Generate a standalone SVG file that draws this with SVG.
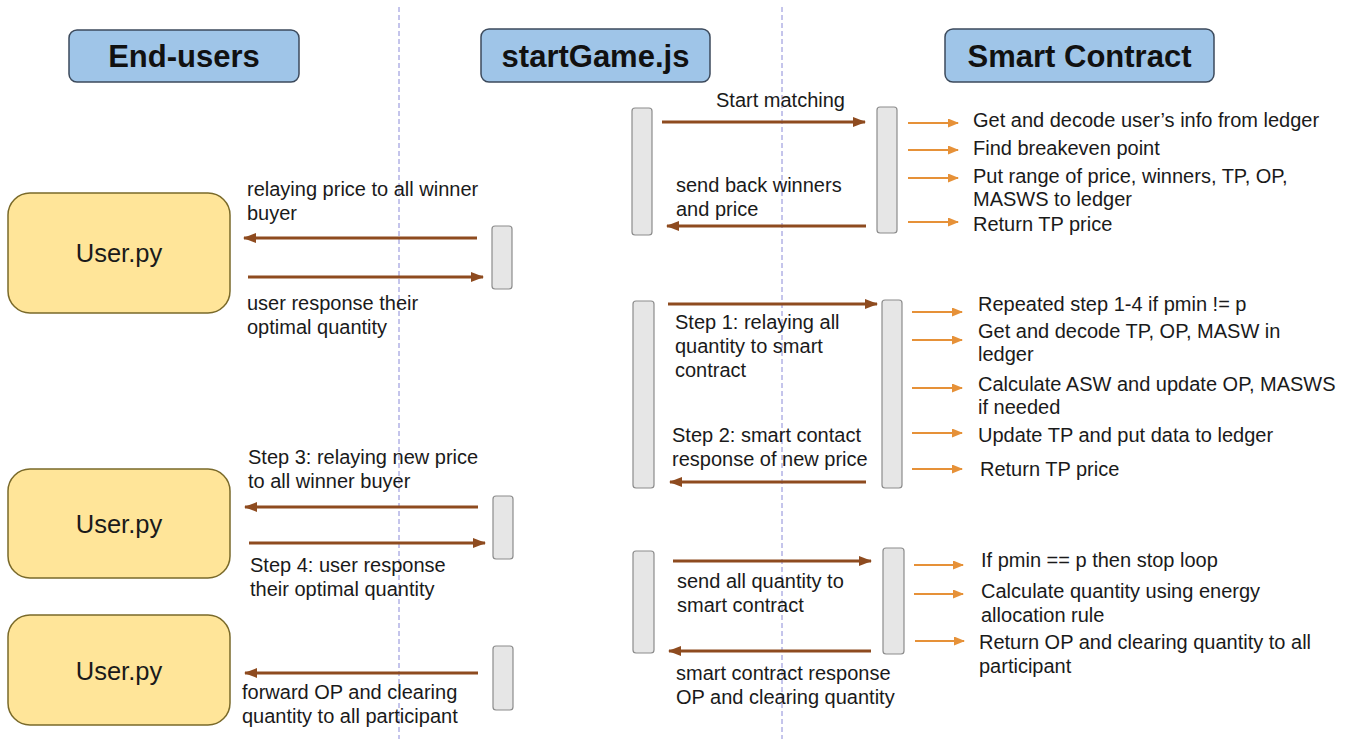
<svg xmlns="http://www.w3.org/2000/svg" width="1357" height="739" viewBox="0 0 1357 739">
<style>
.hdr{fill:#9fc5e8;stroke:#3c4a5c;stroke-width:1.5}
.ht{font-family:"Liberation Sans",Arial,sans-serif;font-weight:bold;font-size:31px;fill:#111;text-anchor:middle}
.usr{fill:#ffe599;stroke:#7a6a2a;stroke-width:1.5}
.ut{font-family:"Liberation Sans",Arial,sans-serif;font-size:25.5px;fill:#1a1a1a;text-anchor:middle}
.bar{fill:#e6e6e6;stroke:#8c8c8c;stroke-width:1.2}
.t{font-family:"Liberation Sans",Arial,sans-serif;font-size:20px;fill:#1a1a1a}
.life{stroke:#8a8ad8;stroke-width:1;stroke-dasharray:5 3;fill:none}
.br{stroke:#8e4b1f;stroke-width:3;fill:none;marker-end:url(#ah)}
.or{stroke:#e69138;stroke-width:2;fill:none;marker-end:url(#oh)}
</style>
<defs>
<marker id="ah" markerUnits="userSpaceOnUse" markerWidth="13" markerHeight="10" refX="12" refY="5" orient="auto">
<path d="M0,0 L13,5 L0,10 z" fill="#8e4b1f"/>
</marker>
<marker id="oh" markerUnits="userSpaceOnUse" markerWidth="11" markerHeight="9" refX="10" refY="4.5" orient="auto">
<path d="M0,0 L11,4.5 L0,9 z" fill="#e69138"/>
</marker>
</defs>
<rect width="1357" height="739" fill="#ffffff"/>
<g id="lifelines">
<line class="life" x1="399" y1="7" x2="399" y2="739"/>
<line class="life" x1="782" y1="7" x2="782" y2="739"/>
</g>
<g id="hdr-endusers"><rect class="hdr" x="69" y="30" width="230" height="52" rx="8"/><text class="ht" x="184" y="67">End-users</text></g>
<g id="hdr-startgame"><rect class="hdr" x="481" y="29" width="229" height="53" rx="8"/><text class="ht" x="595.5" y="67">startGame.js</text></g>
<g id="hdr-smartcontract"><rect class="hdr" x="945" y="29" width="269" height="53" rx="8"/><text class="ht" x="1079.5" y="67">Smart Contract</text></g>
<g id="user1"><rect class="usr" x="8" y="193" width="222" height="120" rx="22"/><text class="ut" x="119" y="262">User.py</text></g>
<g id="user2"><rect class="usr" x="8" y="469" width="222" height="109" rx="22"/><text class="ut" x="119" y="533">User.py</text></g>
<g id="user3"><rect class="usr" x="8" y="615" width="222" height="110" rx="22"/><text class="ut" x="119" y="680">User.py</text></g>
<g id="bars">
<rect class="bar" x="632" y="108" width="20" height="127" rx="3"/>
<rect class="bar" x="877" y="107" width="20" height="126" rx="3"/>
<rect class="bar" x="492" y="226" width="20" height="63" rx="3"/>
<rect class="bar" x="633" y="301" width="21" height="187" rx="3"/>
<rect class="bar" x="882" y="300" width="20" height="188" rx="3"/>
<rect class="bar" x="493" y="496" width="20" height="63" rx="3"/>
<rect class="bar" x="493" y="646" width="20" height="64" rx="3"/>
<rect class="bar" x="633" y="551" width="21" height="102" rx="3"/>
<rect class="bar" x="883" y="548" width="21" height="106" rx="3"/>
</g>
<g id="connectors">
<line class="br" x1="662" y1="122" x2="865" y2="122"/>
<line class="br" x1="866" y1="226" x2="667" y2="226"/>
<line class="br" x1="477" y1="238" x2="244" y2="238"/>
<line class="br" x1="248" y1="277" x2="483" y2="277"/>
<line class="br" x1="668" y1="304" x2="877" y2="304"/>
<line class="br" x1="866" y1="482" x2="670" y2="482"/>
<line class="br" x1="478" y1="507" x2="245" y2="507"/>
<line class="br" x1="249" y1="543" x2="485" y2="543"/>
<line class="br" x1="478" y1="673" x2="245" y2="673"/>
<line class="br" x1="673" y1="561" x2="871" y2="561"/>
<line class="br" x1="871" y1="651" x2="669" y2="651"/>
<line class="or" x1="908" y1="123" x2="958" y2="123"/>
<line class="or" x1="908" y1="150" x2="958" y2="150"/>
<line class="or" x1="908" y1="178" x2="958" y2="178"/>
<line class="or" x1="908" y1="222" x2="958" y2="222"/>
<line class="or" x1="912" y1="312" x2="962" y2="312"/>
<line class="or" x1="912" y1="340" x2="962" y2="340"/>
<line class="or" x1="912" y1="388" x2="962" y2="388"/>
<line class="or" x1="912" y1="433" x2="962" y2="433"/>
<line class="or" x1="912" y1="469" x2="962" y2="469"/>
<line class="or" x1="914" y1="565" x2="963" y2="565"/>
<line class="or" x1="914" y1="594" x2="963" y2="594"/>
<line class="or" x1="915" y1="641" x2="964" y2="641"/>
</g>
<g id="labels">
<text class="t" x="716" y="107">Start matching</text>
<text class="t" x="676" y="192">send back winners</text>
<text class="t" x="676" y="216">and price</text>
<text class="t" x="247" y="196">relaying price to all winner</text>
<text class="t" x="247" y="220">buyer</text>
<text class="t" x="247" y="310">user response their</text>
<text class="t" x="247" y="334">optimal quantity</text>
<text class="t" x="675" y="329">Step 1: relaying all</text>
<text class="t" x="675" y="353">quantity to smart</text>
<text class="t" x="675" y="377">contract</text>
<text class="t" x="672" y="442">Step 2: smart contact</text>
<text class="t" x="672" y="466">response of new price</text>
<text class="t" x="248" y="464">Step 3: relaying new price</text>
<text class="t" x="248" y="488">to all winner buyer</text>
<text class="t" x="250" y="572">Step 4: user response</text>
<text class="t" x="250" y="596">their optimal quantity</text>
<text class="t" x="242" y="699">forward OP and clearing</text>
<text class="t" x="242" y="723">quantity to all participant</text>
<text class="t" x="677" y="588">send all quantity to</text>
<text class="t" x="677" y="612">smart contract</text>
<text class="t" x="676" y="680">smart contract response</text>
<text class="t" x="676" y="704">OP and clearing quantity</text>
<text class="t" x="973" y="127">Get and decode user’s info from ledger</text>
<text class="t" x="973" y="155">Find breakeven point</text>
<text class="t" x="973" y="183">Put range of price, winners, TP, OP,</text>
<text class="t" x="973" y="206">MASWS to ledger</text>
<text class="t" x="973" y="231">Return TP price</text>
<text class="t" x="978" y="311">Repeated step 1-4 if pmin != p</text>
<text class="t" x="978" y="338">Get and decode TP, OP, MASW in</text>
<text class="t" x="978" y="361">ledger</text>
<text class="t" x="978" y="391">Calculate ASW and update OP, MASWS</text>
<text class="t" x="978" y="414">if needed</text>
<text class="t" x="978" y="442">Update TP and put data to ledger</text>
<text class="t" x="980" y="476">Return TP price</text>
<text class="t" x="981" y="567">If pmin == p then stop loop</text>
<text class="t" x="981" y="598">Calculate quantity using energy</text>
<text class="t" x="981" y="622">allocation rule</text>
<text class="t" x="979" y="649">Return OP and clearing quantity to all</text>
<text class="t" x="979" y="673">participant</text>
</g>
</svg>
